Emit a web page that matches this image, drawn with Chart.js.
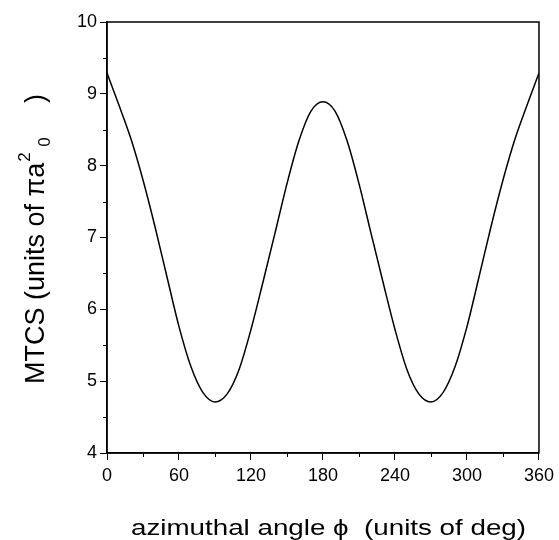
<!DOCTYPE html>
<html>
<head>
<meta charset="utf-8">
<script src="https://cdn.jsdelivr.net/npm/chart.js@4.4.1/dist/chart.umd.min.js"></script>
<style>
  html, body { margin: 0; padding: 0; background: #fff; }
  #mtcsChart { display: block; }
</style>
</head>
<body>
<canvas id="mtcsChart" width="559" height="540"></canvas>
<script>
// azimuthal angle (deg) and MTCS values
var angles = [0, 10, 20, 30, 40, 50, 60, 70, 80, 90, 100, 110, 120, 130, 140, 150, 160, 170, 180,
              190, 200, 210, 220, 230, 240, 250, 260, 270, 280, 290, 300, 310, 320, 330, 340, 350, 360];
var mtcs = [9.29, 8.84, 8.37, 7.80, 7.15, 6.45, 5.76, 5.20, 4.84, 4.71, 4.82, 5.16, 5.72, 6.38, 7.06, 7.75, 8.35, 8.76, 8.89,
            8.76, 8.35, 7.75, 7.06, 6.38, 5.72, 5.16, 4.82, 4.71, 4.84, 5.20, 5.76, 6.45, 7.15, 7.80, 8.37, 8.84, 9.29];
var xMinorTicks = [30, 90, 150, 210, 270, 330];
var yMinorTicks = [4.5, 5.5, 6.5, 7.5, 8.5, 9.5];

var FONT = '"Liberation Sans", Arial, Helvetica, sans-serif';

// frame, minor ticks and the two axis titles
var decorations = {
  id: 'decorations',
  afterDraw: function (chart) {
    var ctx = chart.ctx;
    var area = chart.chartArea;
    var xs = chart.scales.x;
    var ys = chart.scales.y;

    ctx.save();
    ctx.strokeStyle = '#000';
    ctx.lineWidth = 1.5;
    ctx.strokeRect(area.left, area.top, area.right - area.left, area.bottom - area.top);

    ctx.lineWidth = 1;
    ctx.beginPath();
    xMinorTicks.forEach(function (v) {
      var px = Math.round(xs.getPixelForValue(v)) + 0.5;
      ctx.moveTo(px, area.bottom);
      ctx.lineTo(px, area.bottom + 4);
    });
    yMinorTicks.forEach(function (v) {
      var py = Math.round(ys.getPixelForValue(v)) + 0.5;
      ctx.moveTo(area.left, py);
      ctx.lineTo(area.left - 4, py);
    });
    ctx.stroke();

    // x title
    ctx.fillStyle = '#000';
    ctx.font = '22px ' + FONT;
    ctx.textBaseline = 'alphabetic';
    ctx.textAlign = 'left';
    var xt = 'azimuthal angle \u03d5  (units of deg)';
    var tw = ctx.measureText(xt).width;
    ctx.save();
    ctx.translate(131, 535);
    ctx.scale(395 / tw, 1);
    ctx.fillText(xt, 0, 0);
    ctx.restore();

    // y title with super/subscript
    ctx.save();
    ctx.translate(44, 384);
    ctx.rotate(-Math.PI / 2);
    ctx.font = '27px ' + FONT;
    var yt = 'MTCS (units of \u03c0a';
    ctx.fillText(yt, 0, 0);
    var w = ctx.measureText(yt).width;
    ctx.font = '17px ' + FONT;
    ctx.fillText('2', w + 1, -14);
    ctx.fillText('0', w + 16, 6);
    ctx.font = '27px ' + FONT;
    ctx.fillText(')', 281, 0);
    ctx.restore();

    ctx.restore();
  }
};

var ctx = document.getElementById('mtcsChart').getContext('2d');
var mtcsChart = new Chart(ctx, {
  type: 'line',
  data: {
    datasets: [{
      data: angles.map(function (a, i) { return { x: a, y: mtcs[i] }; }),
      borderColor: '#000',
      borderWidth: 1.5,
      pointRadius: 0,
      fill: false,
      cubicInterpolationMode: 'monotone'
    }]
  },
  options: {
    responsive: false,
    animation: false,
    layout: { padding: { top: 22, right: 20, left: 0, bottom: 0 } },
    plugins: {
      legend: { display: false },
      tooltip: { enabled: false }
    },
    scales: {
      x: {
        type: 'linear',
        min: 0,
        max: 360,
        afterFit: function (scale) { scale.height = 87; },
        ticks: {
          stepSize: 60,
          color: '#000',
          padding: 5,
          maxRotation: 0,
          font: { family: FONT, size: 18 }
        },
        grid: { drawOnChartArea: false, drawTicks: true, tickLength: 7, tickColor: '#000', tickWidth: 1 },
        border: { display: true, color: '#000', width: 1.5 }
      },
      y: {
        min: 4,
        max: 10,
        afterFit: function (scale) { scale.width = 107; },
        ticks: {
          stepSize: 1,
          color: '#000',
          padding: 3,
          font: { family: FONT, size: 18 }
        },
        grid: { drawOnChartArea: false, drawTicks: true, tickLength: 7, tickColor: '#000', tickWidth: 1 },
        border: { display: true, color: '#000', width: 1.5 }
      }
    }
  },
  plugins: [decorations]
});
</script>
</body>
</html>
